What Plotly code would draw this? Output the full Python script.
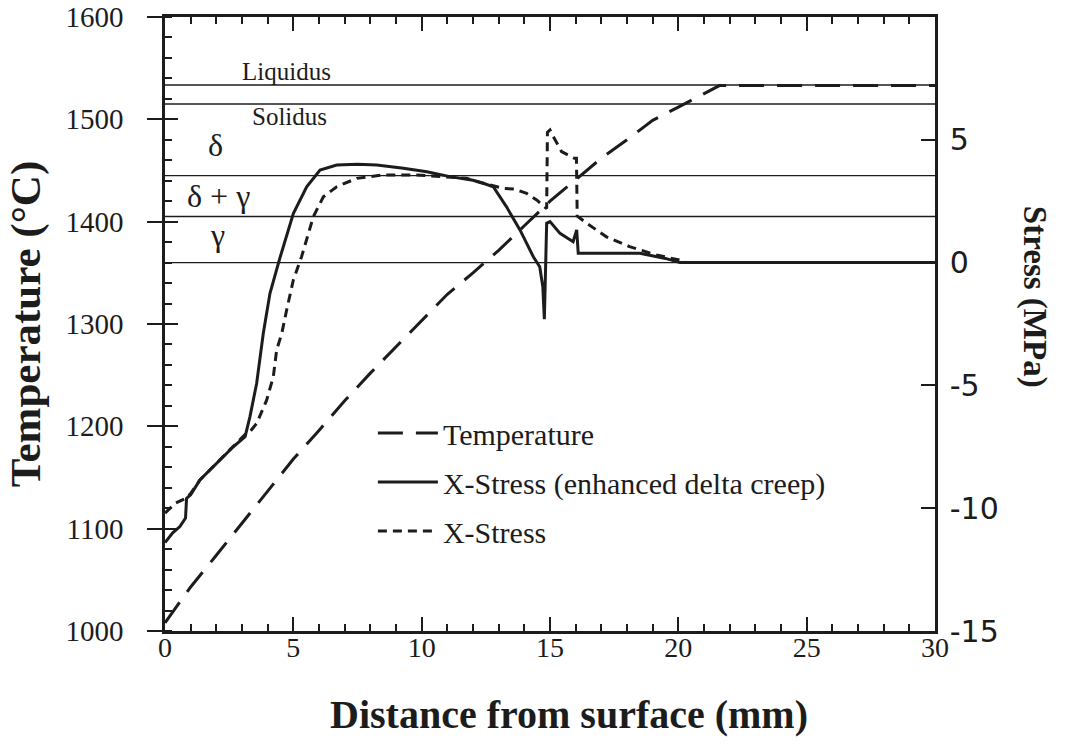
import plotly.graph_objects as go

# Temperature profile through the shell (left axis, deg C)
temp_x = [0, 1, 2, 3, 4, 5, 6, 7, 8, 9, 10, 11, 12, 13, 14, 15, 16, 17, 18, 19, 20, 21, 21.6, 25, 30]
temp_c = [1008, 1043, 1074, 1105, 1137, 1168, 1196, 1225, 1252, 1278, 1304, 1329, 1350, 1372, 1396,
          1420, 1441, 1462, 1480, 1499, 1512, 1525, 1533, 1533, 1533]

# X-stress with enhanced delta creep (right axis, MPa)
creep_x = [0, 0.3, 0.58, 0.8, 0.84, 1.0, 1.36, 2.0, 2.66, 3.12, 3.31, 3.57, 3.83, 4.09, 4.48, 5.0,
           5.52, 6.04, 6.69, 7.5, 8.25, 9.29, 10.2, 11.1, 12.0, 12.4, 12.79, 13.3, 13.83, 14.35,
           14.6, 14.72, 14.78, 14.87, 15.0, 15.39, 15.9, 16.04, 16.1, 16.17, 18.5, 19.5, 20.06, 30]
creep_mpa = [-11.4, -11.0, -10.75, -10.4, -9.6, -9.45, -8.85, -8.17, -7.5, -7.09, -6.27, -4.92,
             -2.88, -1.25, 0.2, 2.0, 3.09, 3.77, 3.97, 4.0, 3.97, 3.84, 3.7, 3.5, 3.35, 3.23, 3.09,
             2.28, 1.33, 0.24, -0.17, -0.98, -2.3, 1.6, 1.67, 1.19, 0.85, 1.33, 0.38, 0.38, 0.38,
             0.17, 0.0, 0.0]

# X-stress, standard creep law (right axis, MPa)
std_x = [0, 0.4, 0.8, 1.0, 1.36, 2.0, 2.66, 3.12, 3.3, 3.57, 3.96, 4.22, 4.35, 4.55, 4.74, 5.0,
         5.32, 5.78, 6.17, 6.69, 7.47, 8.5, 9.8, 11.0, 11.75, 12.4, 13.18, 13.6, 14.09, 14.48,
         14.8, 14.87, 14.9, 15.0, 15.13, 15.45, 15.95, 16.03, 16.06, 16.43, 17.2, 18.1, 19.15,
         20.06, 20.3, 30]
std_mpa = [-10.2, -9.8, -9.6, -9.4, -8.85, -8.17, -7.5, -7.0, -6.9, -6.55, -5.6, -4.65, -3.56,
           -2.88, -1.93, -0.71, 0.24, 1.87, 2.68, 3.09, 3.43, 3.57, 3.57, 3.5, 3.43, 3.23, 3.02,
           3.0, 2.82, 2.55, 2.28, 2.2, 5.3, 5.4, 5.13, 4.52, 4.25, 4.25, 1.9, 1.6, 1.05, 0.65,
           0.31, 0.1, 0.0, 0.0]

# Phase boundaries (deg C)
phase_names = ["Liquidus", "Solidus", "delta / delta+gamma", "delta+gamma / gamma", "gamma"]
phase_temps = [1533.5, 1515, 1445, 1405, 1360]

# Axis ticks
x_ticks = [0, 5, 10, 15, 20, 25, 30]
t_ticks = [1000, 1100, 1200, 1300, 1400, 1500, 1600]
s_ticks = [-15, -10, -5, 0, 5, 10]
s_tick_text = ["-15", "-10", "-5", "0", "5", "10"]

INK = "#1c1c1c"
SERIF = "Liberation Serif"
SANS = "DejaVu Sans"

fig = go.Figure()

for name, t in zip(phase_names, phase_temps):
    fig.add_trace(go.Scatter(x=[x_ticks[0], x_ticks[-1]], y=[t, t], mode="lines",
                             line=dict(color=INK, width=1.4), showlegend=False,
                             hoverinfo="skip", name=name))

fig.add_trace(go.Scatter(x=temp_x, y=temp_c, mode="lines", name="Temperature",
                         line=dict(color=INK, width=3, dash="25px,13px"),
                         legendgroup="a"))
fig.add_trace(go.Scatter(x=creep_x, y=creep_mpa, mode="lines", yaxis="y2",
                         name="X-Stress (enhanced delta creep)",
                         line=dict(color=INK, width=3), legendgroup="b"))
fig.add_trace(go.Scatter(x=std_x, y=std_mpa, mode="lines", yaxis="y2", name="X-Stress",
                         line=dict(color=INK, width=3, dash="9px,6px"), legendgroup="c"))

# Phase region labels
labels = [
    dict(x=4.75, y=1532, text="Liquidus", yanchor="bottom", size=25),
    dict(x=4.85, y=1518, text="Solidus", yanchor="top", size=25),
    dict(x=1.95, y=1475, text="δ", yanchor="middle", size=32),
    dict(x=2.1, y=1425, text="δ + γ", yanchor="middle", size=32),
    dict(x=2.05, y=1387, text="γ", yanchor="middle", size=32),
]
for lb in labels:
    fig.add_annotation(x=lb["x"], y=lb["y"], xref="x", yref="y", text=lb["text"],
                       showarrow=False, yanchor=lb["yanchor"], xanchor="center",
                       font=dict(family=SERIF, size=lb["size"], color=INK))

# Axis titles
fig.add_annotation(x=1.0, xref="paper", xshift=120, y=0.545, yref="paper",
                   text="<b>Stress (MPa)</b>", textangle=90, showarrow=False,
                   font=dict(family=SERIF, size=33, color=INK))
fig.add_annotation(x=0.5, xref="paper", xshift=19, y=0, yref="paper", yshift=-108,
                   text="<b>Distance from surface (mm)</b>", showarrow=False,
                   font=dict(family=SERIF, size=40, color=INK))

axis_common = dict(showline=True, linewidth=2.5, linecolor=INK, showgrid=False,
                   zeroline=False, automargin=False)

fig.update_layout(
    width=1067, height=748,
    margin=dict(l=165, r=132, t=17, b=117),
    paper_bgcolor="white", plot_bgcolor="white",
    xaxis=dict(range=[0, 30], tickvals=x_ticks, ticks="inside", ticklen=14, tickwidth=2,
               tickcolor=INK, mirror="ticks",
               minor=dict(dtick=1, ticks="inside", ticklen=7, tickwidth=2, tickcolor=INK),
               tickfont=dict(family=SERIF, size=28, color=INK), ticklabelstandoff=-10,
               **axis_common),
    yaxis=dict(range=[1000, 1600], tickvals=t_ticks, ticks="outside", ticklen=15, tickwidth=2,
               tickcolor=INK,
               minor=dict(dtick=20, ticks="inside", ticklen=7, tickwidth=2, tickcolor=INK),
               tickfont=dict(family=SERIF, size=29, color=INK), ticklabelstandoff=18,
               title=dict(text="<b>Temperature (°C)</b>",
                          font=dict(family=SERIF, size=43, color=INK), standoff=12),
               **axis_common),
    yaxis3=dict(range=[1000, 1600], tickvals=t_ticks, ticks="inside", ticklen=13, tickwidth=2,
                tickcolor=INK, showticklabels=False, overlaying="y", side="left",
                showline=False, showgrid=False, zeroline=False, automargin=False),
    yaxis2=dict(range=[-15, 10], tickvals=s_ticks, ticktext=s_tick_text, ticks="inside",
                ticklen=14, tickwidth=2, tickcolor=INK, overlaying="y", side="right",
                tickfont=dict(family=SANS, size=30, color=INK), ticklabelstandoff=6,
                **axis_common),
    legend=dict(x=0.27, y=0.365, xanchor="left", yanchor="top", bgcolor="rgba(0,0,0,0)",
                font=dict(family=SERIF, size=30, color=INK), tracegroupgap=7,
                itemwidth=60),
    showlegend=True,
)

# invisible trace so the inner tick axis is drawn
fig.add_trace(go.Scatter(x=[x_ticks[0]], y=[t_ticks[0]], yaxis="y3", mode="lines",
                         showlegend=False, hoverinfo="skip", line=dict(width=0)))

fig.write_html("out.html")
